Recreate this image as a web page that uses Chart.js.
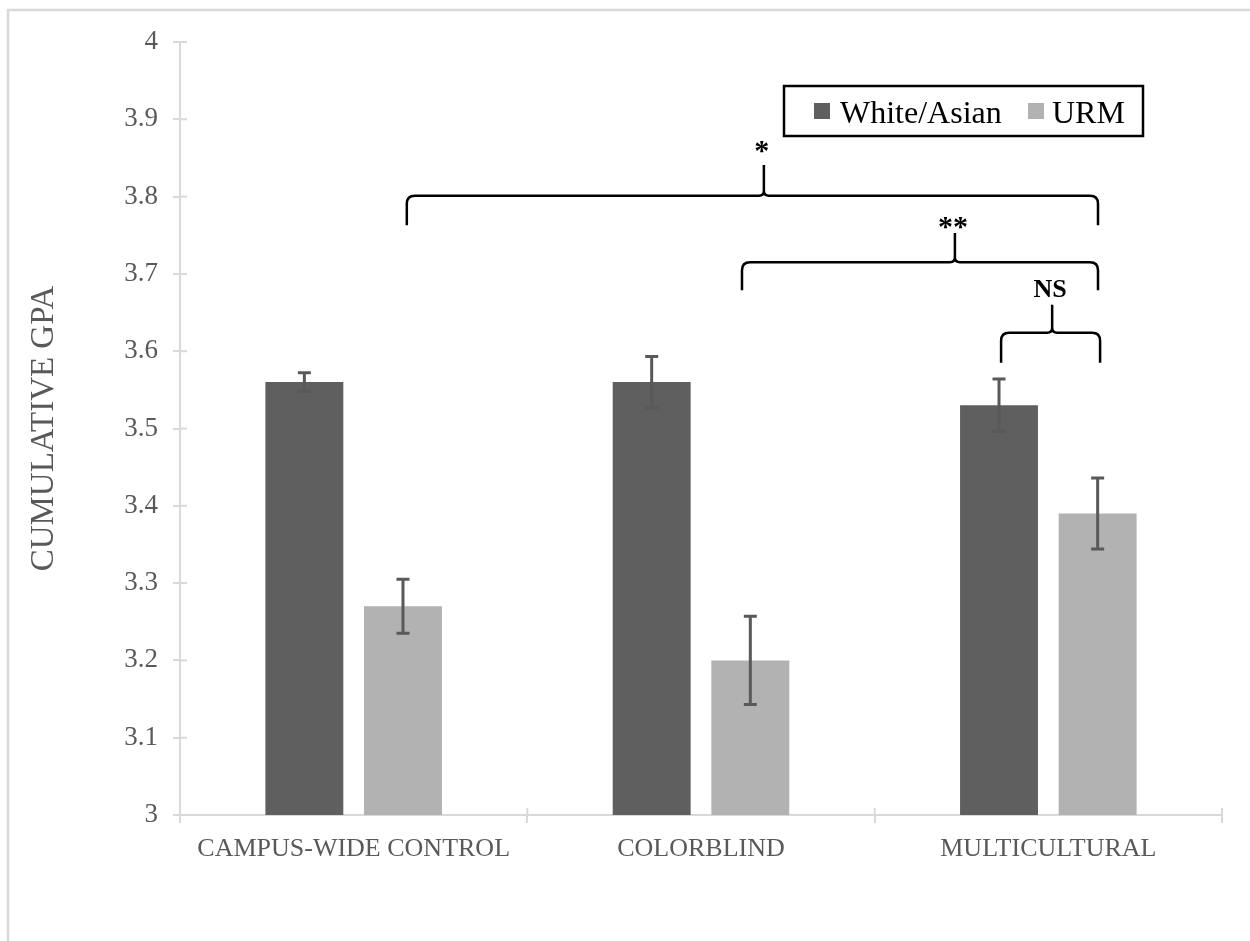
<!DOCTYPE html>
<html>
<head>
<meta charset="utf-8">
<script src="https://cdn.jsdelivr.net/npm/chart.js@4/dist/chart.umd.min.js"></script>
<style>
html,body{margin:0;padding:0;background:#fff;}
#wrap{width:1250px;height:941px;position:relative;}
</style>
</head>
<body>
<div id="wrap"><canvas id="c" width="1250" height="941"></canvas></div>
<script>
// ---- data ----
const categories = ['CAMPUS-WIDE CONTROL', 'COLORBLIND', 'MULTICULTURAL'];
const seriesNames = ['White/Asian', 'URM'];
const whiteAsian = [3.56, 3.56, 3.53];
const urm = [3.27, 3.20, 3.39];
const whiteAsianErr = [0.012, 0.033, 0.034];
const urmErr = [0.035, 0.057, 0.046];
const yTickLabels = ['3', '3.1', '3.2', '3.3', '3.4', '3.5', '3.6', '3.7', '3.8', '3.9', '4'];
// significance braces (category index positions, GPA values)
const braceLabels = ['*', '**', 'NS'];
const braceFrom = [0.153, 1.118, 1.864];
const braceTo = [2.143, 2.143, 2.149];
const braceTip = [1.181, 1.731, 2.011];
const braceLevel = [3.801, 3.715, 3.624];
const braceEndLevel = [3.763, 3.679, 3.585];
const braceTipLevel = [3.841, 3.753, 3.660];
const braceLabelLevel = [3.847, 3.749, 3.670];

const DARK = '#5f5f5f', LIGHT = '#b2b2b2', AXIS = '#d9d9d9', TXT = '#595959';
const FONT = '"Liberation Serif", "Times New Roman", serif';

const bgPlugin = {
  id: 'bg',
  beforeDraw(chart) {
    const ctx = chart.ctx;
    ctx.save();
    ctx.fillStyle = '#fff';
    ctx.fillRect(0, 0, chart.width, chart.height);
    ctx.strokeStyle = AXIS;
    ctx.lineWidth = 2.5;
    ctx.strokeRect(8, 10, chart.width + 40, chart.height + 40);
    ctx.restore();
  }
};

const crossTicks = {
  id: 'crossTicks',
  afterDraw(chart) {
    const ctx = chart.ctx, x = chart.scales.x, y = chart.scales.y, a = chart.chartArea;
    ctx.save();
    ctx.strokeStyle = AXIS;
    ctx.lineWidth = 2;
    y.ticks.forEach((t, i) => {
      const py = y.getPixelForTick(i);
      ctx.beginPath(); ctx.moveTo(a.left, py); ctx.lineTo(a.left + 7, py); ctx.stroke();
    });
    for (let i = 0; i <= categories.length; i++) {
      const px = x.getPixelForValue(i - 0.5);
      ctx.beginPath(); ctx.moveTo(px, a.bottom); ctx.lineTo(px, a.bottom - 7); ctx.stroke();
    }
    ctx.restore();
  }
};

const errorBars = {
  id: 'errorBars',
  afterDatasetsDraw(chart) {
    const ctx = chart.ctx, y = chart.scales.y;
    const errs = [whiteAsianErr, urmErr];
    ctx.save();
    ctx.strokeStyle = '#595959';
    ctx.lineWidth = 3;
    chart.data.datasets.forEach((ds, di) => {
      const meta = chart.getDatasetMeta(di);
      meta.data.forEach((bar, j) => {
        const v = ds.data[j], e = errs[di][j];
        const top = y.getPixelForValue(v + e), bot = y.getPixelForValue(v - e);
        ctx.beginPath();
        ctx.moveTo(bar.x, top); ctx.lineTo(bar.x, bot);
        ctx.moveTo(bar.x - 6.5, top); ctx.lineTo(bar.x + 6.5, top);
        ctx.moveTo(bar.x - 6.5, bot); ctx.lineTo(bar.x + 6.5, bot);
        ctx.stroke();
      });
    });
    ctx.restore();
  }
};

const braces = {
  id: 'braces',
  afterDraw(chart) {
    const ctx = chart.ctx, x = chart.scales.x, y = chart.scales.y;
    ctx.save();
    ctx.strokeStyle = '#000';
    ctx.lineWidth = 2.5;
    ctx.lineJoin = 'round';
    braceLabels.forEach((lab, i) => {
      const x1 = x.getPixelForValue(braceFrom[i]);
      const x2 = x.getPixelForValue(braceTo[i]);
      const xm = x.getPixelForValue(braceTip[i]);
      const yh = y.getPixelForValue(braceLevel[i]);
      const ye = y.getPixelForValue(braceEndLevel[i]);
      const yt = y.getPixelForValue(braceTipLevel[i]);
      const r = 8, r2 = 5;
      ctx.beginPath();
      ctx.moveTo(x1, ye);
      ctx.lineTo(x1, yh + r);
      ctx.quadraticCurveTo(x1, yh, x1 + r, yh);
      ctx.lineTo(xm - r2, yh);
      ctx.quadraticCurveTo(xm, yh, xm, yh - r2);
      ctx.lineTo(xm, yt);
      ctx.moveTo(xm, yh - r2);
      ctx.quadraticCurveTo(xm, yh, xm + r2, yh);
      ctx.lineTo(x2 - r, yh);
      ctx.quadraticCurveTo(x2, yh, x2, yh + r);
      ctx.lineTo(x2, ye);
      ctx.stroke();
      ctx.fillStyle = '#000';
      ctx.font = 'bold ' + (lab === 'NS' ? 26 : 30) + 'px ' + FONT;
      ctx.textAlign = 'center';
      ctx.textBaseline = 'alphabetic';
      ctx.fillText(lab, xm - 2, y.getPixelForValue(braceLabelLevel[i]));
    });
    ctx.restore();
  }
};

const boxLegend = {
  id: 'boxLegend',
  afterDraw(chart) {
    const ctx = chart.ctx, a = chart.chartArea;
    const bx = a.right - 438, by = a.top + 44, bw = 359, bh = 50;
    ctx.save();
    ctx.fillStyle = '#fff';
    ctx.fillRect(bx, by, bw, bh);
    ctx.strokeStyle = '#000';
    ctx.lineWidth = 2.5;
    ctx.strokeRect(bx, by, bw, bh);
    ctx.font = '32px ' + FONT;
    ctx.textBaseline = 'alphabetic';
    ctx.textAlign = 'left';
    const items = [{ off: 30, txt: 56 }, { off: 244, txt: 268 }];
    chart.data.datasets.forEach((ds, i) => {
      ctx.fillStyle = ds.backgroundColor;
      ctx.fillRect(bx + items[i].off, by + 17, 16, 16);
      ctx.fillStyle = '#000';
      ctx.fillText(ds.label, bx + items[i].txt, by + 37);
    });
    ctx.restore();
  }
};

Chart.defaults.font.family = FONT;

new Chart(document.getElementById('c'), {
  type: 'bar',
  data: {
    labels: categories,
    datasets: [
      { label: seriesNames[0], data: whiteAsian, backgroundColor: DARK },
      { label: seriesNames[1], data: urm, backgroundColor: LIGHT }
    ]
  },
  options: {
    responsive: false,
    animation: false,
    devicePixelRatio: 1,
    layout: { padding: { left: 0, top: 42, right: 28, bottom: 0 } },
    datasets: { bar: { categoryPercentage: 0.568, barPercentage: 0.79 } },
    plugins: { legend: { display: false }, tooltip: { enabled: false } },
    scales: {
      x: {
        grid: { offset: true, drawOnChartArea: false, drawTicks: true, tickLength: 8, color: AXIS, lineWidth: 2 },
        border: { color: AXIS, width: 2 },
        ticks: { color: TXT, font: { size: 26 }, padding: 11, maxRotation: 0 },
        afterFit(s) { s.height = 126; }
      },
      y: {
        min: 3, max: 4,
        grid: { drawOnChartArea: false, drawTicks: true, tickLength: 7, color: AXIS, lineWidth: 2 },
        border: { color: AXIS, width: 2 },
        ticks: { stepSize: 0.1, color: TXT, font: { size: 27 }, padding: 15,
          callback: (v, i) => yTickLabels[i] },
        title: { display: true, text: 'CUMULATIVE GPA', color: TXT, font: { size: 33 }, padding: { top: 25, bottom: 0 } },
        afterFit(s) { s.width = 180; }
      }
    }
  },
  plugins: [bgPlugin, errorBars, crossTicks, braces, boxLegend]
});
</script>
</body>
</html>
